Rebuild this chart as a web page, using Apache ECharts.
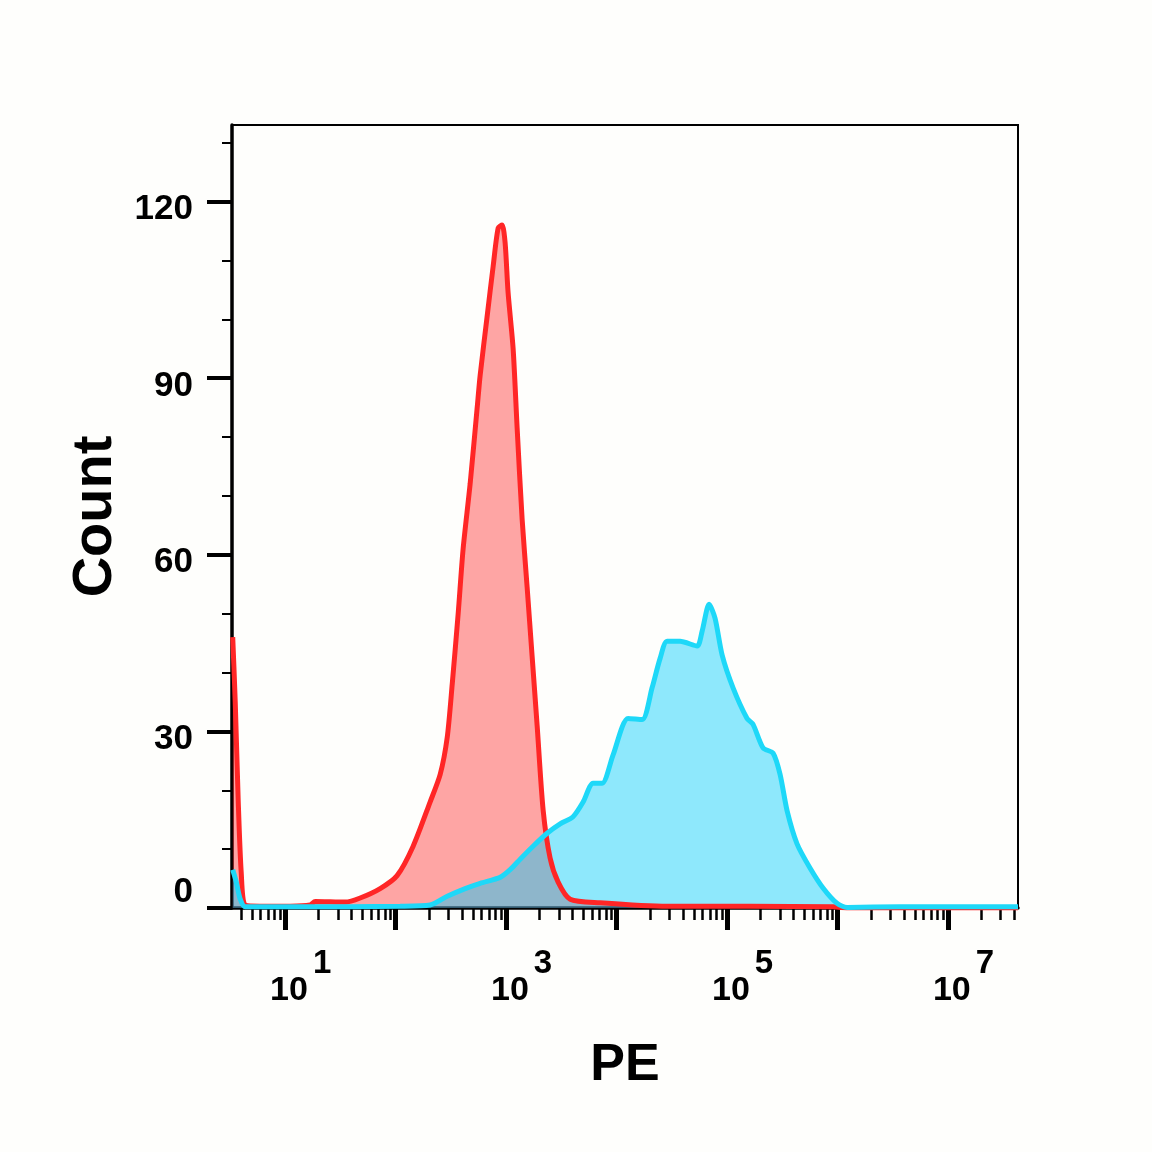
<!DOCTYPE html>
<html>
<head>
<meta charset="utf-8">
<script src="https://cdn.jsdelivr.net/npm/echarts@6/dist/echarts.min.js"></script>
<style>
  html, body { margin: 0; padding: 0; background: #fefefc; }
  #chart { width: 1152px; height: 1152px; }
</style>
</head>
<body>
<div id="chart"></div>
<script>
// 对照组 (红)
const redPE = [3.35, 3.53, 3.76, 4.0, 4.35, 5.9, 11.1, 16.8, 18.7, 34.9, 47.7, 72.4, 103, 144, 205, 253, 293, 325, 368, 408, 472, 547, 582, 673, 763, 847, 920, 979, 1042, 1157, 1258, 1396, 1549, 1718, 1908, 2163, 2500, 2957, 3796, 7091, 28650, 161000, 910000, 1300000, 43000000];
const redCount = [46, 35, 18, 6, 0.5, 0.3, 0.3, 0.5, 1.1, 1.0, 1.7, 3.3, 5.5, 10.5, 18, 22.7, 29, 38, 50, 61, 72, 85, 90.5, 100.5, 109, 115.5, 116, 113, 104.5, 95, 81.5, 66, 54.5, 42.8, 31, 16.6, 8.5, 4.4, 1.5, 0.9, 0.3, 0.3, 0.2, 0, 0];

// 样本 (蓝)
const cyanPE = [3.35, 3.6, 3.92, 4.35, 13.7, 110, 205, 293, 426, 582, 883, 1100, 1340, 1754, 2350, 3083, 4036, 4975, 6124, 7392, 9295, 12700, 17020, 20950, 24760, 28650, 37560, 53550, 59440, 68750, 77870, 90120, 113300, 151700, 171900, 211700, 260800, 301800, 349500, 429900, 563200, 739000, 988000, 1220000, 3680000, 43000000];
const cyanCount = [6.5, 4.5, 1.5, 0.2, 0.2, 0.3, 0.5, 2, 3.3, 4.2, 5.2, 6.6, 8.3, 10.5, 12.7, 14.3, 15.5, 18, 21.2, 21.2, 26, 32.2, 32, 37.4, 42.4, 45.3, 45.3, 44.5, 47, 51.6, 49.2, 43, 37.4, 32.2, 31.2, 27.2, 26.3, 22.7, 16.5, 10.9, 6.8, 3.4, 0.8, 0.1, 0.2, 0.2];

// 坐标轴刻度
const xMin = 3.3;
const xMax = 43000000;
const xMajorTicks = [10, 100, 1000, 10000, 100000, 1000000, 10000000];
const xLabelTicks = [10, 1000, 100000, 10000000];
const xMinorMult = [2, 3, 4, 5, 6, 7, 8, 9];
const xDecades = [1, 10, 100, 1000, 10000, 100000, 1000000, 10000000];
const yMax = 133;
const yMajorTicks = [0, 30, 60, 90, 120];
const yMinorTicks = [10, 20, 40, 50, 70, 80, 100, 110, 130];

const xMinorTicks = [];
xDecades.forEach(d => {
  xMinorMult.forEach(m => {
    const v = d * m;
    if (v >= xMin && v <= xMax) xMinorTicks.push(v);
  });
});

const FONT = 'Liberation Sans';

const myChart = echarts.init(document.getElementById('chart'));

const option = {
  backgroundColor: '#fefefc',
  animation: false,
  grid: {
    left: 232,
    right: 134,
    top: 125,
    bottom: 244,
    show: true,
    borderColor: '#000',
    borderWidth: 2,
    backgroundColor: 'transparent',
  },
  xAxis: [
    {
      type: 'log',
      logBase: 10,
      min: xMin,
      max: xMax,
      name: 'PE',
      nameLocation: 'middle',
      nameGap: 132,
      nameTextStyle: { fontFamily: FONT, fontSize: 52, fontWeight: 'bold', color: '#000' },
      axisLine: { show: true, lineStyle: { color: '#000', width: 3.5 } },
      axisTick: { show: true, customValues: xMajorTicks, length: 22, lineStyle: { color: '#000', width: 5 } },
      axisLabel: {
        show: true,
        customValues: xLabelTicks,
        margin: 40,
        padding: [0, 0, 0, 31],
        formatter: v => '{b|10}{e|' + Math.round(Math.log10(v)) + '}',
        rich: {
          b: { fontFamily: FONT, fontSize: 34, fontWeight: 'bold', color: '#000', lineHeight: 32, padding: [54, 0, 0, 0] },
          e: { fontFamily: FONT, fontSize: 33, fontWeight: 'bold', color: '#000', lineHeight: 32, padding: [0, 0, 0, 5] },
        },
      },
      splitLine: { show: false },
      minorTick: { show: false },
    },
    {
      type: 'log',
      logBase: 10,
      min: xMin,
      max: xMax,
      position: 'bottom',
      axisLine: { show: false },
      axisTick: { show: true, customValues: xMinorTicks, length: 12, lineStyle: { color: '#000', width: 2.5 } },
      axisLabel: { show: false },
      splitLine: { show: false },
    },
  ],
  yAxis: [
    {
      type: 'value',
      min: 0,
      max: yMax,
      name: 'Count',
      nameLocation: 'middle',
      nameGap: 98,
      nameRotate: 90,
      nameTextStyle: { fontFamily: FONT, fontSize: 56, fontWeight: 'bold', color: '#000' },
      axisLine: { show: true, lineStyle: { color: '#000', width: 3.5 } },
      axisTick: { show: true, customValues: yMajorTicks, length: 25, lineStyle: { color: '#000', width: 4 } },
      axisLabel: {
        show: true,
        customValues: yMajorTicks,
        margin: 39,
        formatter: v => (v === 0 ? '{z|0}' : '{n|' + v + '}'),
        rich: {
          n: { fontFamily: FONT, fontSize: 35, fontWeight: 'bold', color: '#000', padding: [16, 0, 0, 0] },
          z: { fontFamily: FONT, fontSize: 35, fontWeight: 'bold', color: '#000', padding: [0, 0, 32, 0] },
        },
      },
      splitLine: { show: false },
    },
    {
      type: 'value',
      min: 0,
      max: yMax,
      position: 'left',
      axisLine: { show: false },
      axisTick: { show: true, customValues: yMinorTicks, length: 10, lineStyle: { color: '#000', width: 2 } },
      axisLabel: { show: false },
      splitLine: { show: false },
    },
  ],
  series: [
    {
      name: 'control',
      type: 'line',
      xAxisIndex: 0,
      yAxisIndex: 0,
      symbol: 'none',
      smooth: 0.25,
      data: redPE.map((x, i) => [x, redCount[i]]),
      lineStyle: { color: '#ff2626', width: 5 },
      areaStyle: { color: 'rgba(255, 0, 0, 0.35)', opacity: 1 },
    },
    {
      name: 'sample',
      type: 'line',
      xAxisIndex: 0,
      yAxisIndex: 0,
      symbol: 'none',
      smooth: 0.25,
      data: cyanPE.map((x, i) => [x, cyanCount[i]]),
      lineStyle: { color: '#1ed8f8', width: 5 },
      areaStyle: { color: 'rgba(0, 204, 252, 0.44)', opacity: 1 },
    },
  ],
};

myChart.setOption(option);
</script>
</body>
</html>
